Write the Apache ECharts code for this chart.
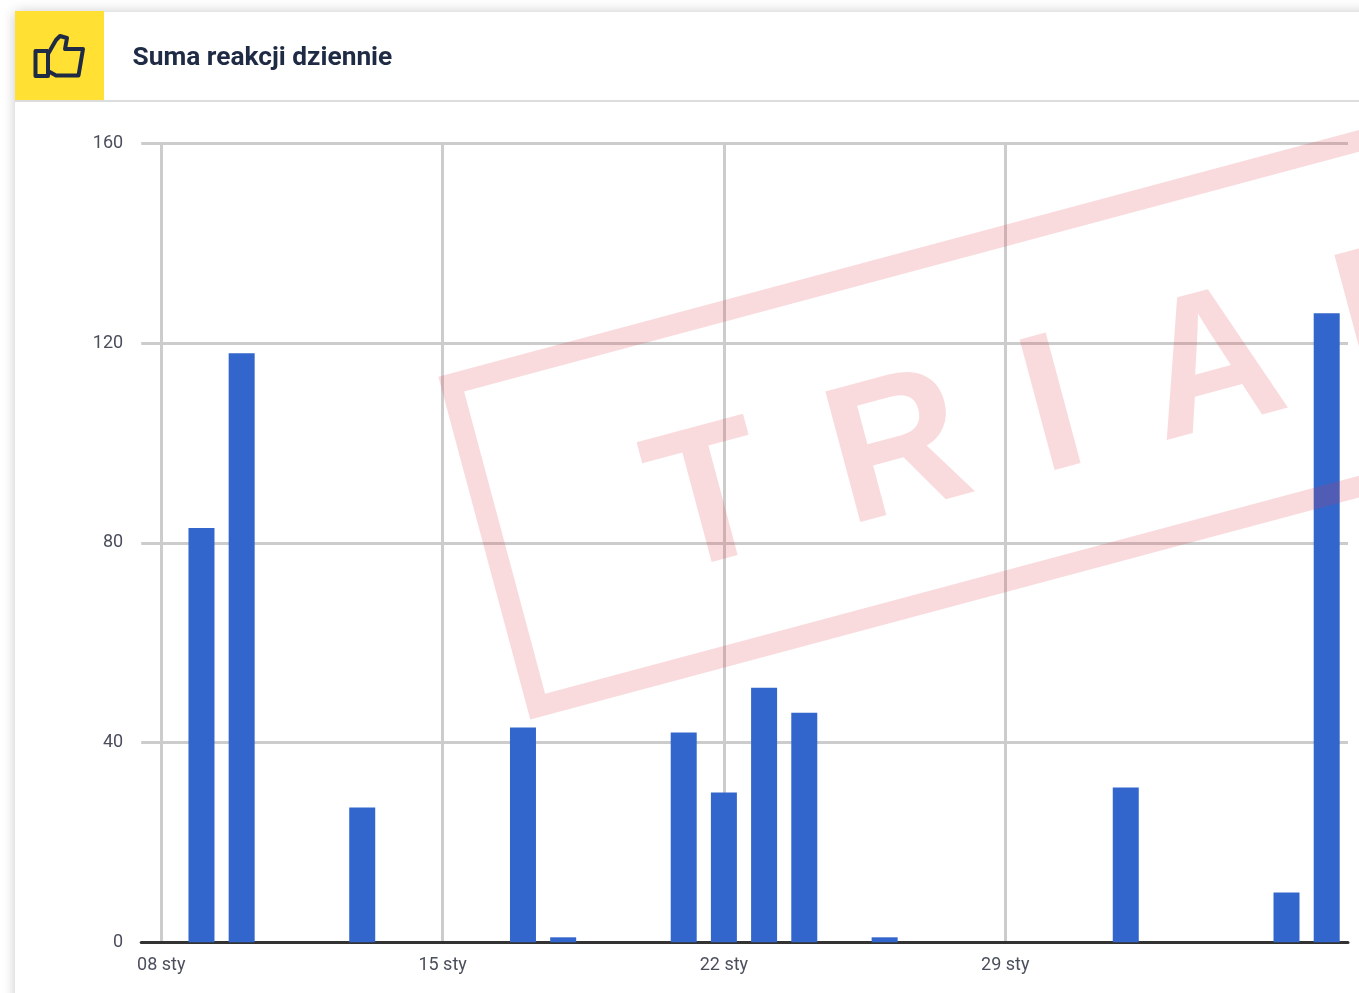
<!DOCTYPE html>
<html><head><meta charset="utf-8">
<style>html,body{margin:0;padding:0;background:#fff;overflow:hidden}#c{width:1359px;height:993px}</style>
<script src="https://cdn.jsdelivr.net/npm/echarts@6/dist/echarts.min.js"></script>
</head><body><div id="c"></div>
<script>
const titleText = 'Suma reakcji dziennie';
const days = ['08 sty','09 sty','10 sty','11 sty','12 sty','13 sty','14 sty','15 sty','16 sty','17 sty','18 sty','19 sty','20 sty','21 sty','22 sty','23 sty','24 sty','25 sty','26 sty','27 sty','28 sty','29 sty','30 sty','31 sty','01 lut','02 lut','03 lut','04 lut','05 lut','06 lut'];
const reactions = [0,83,118,0,0,27,0,0,0,43,1,0,0,42,30,51,46,0,1,0,0,0,0,0,31,0,0,0,10,126];
const labelledDays = ['08 sty','15 sty','22 sty','29 sty'];
const yTicks = [0,40,80,120,160];
const watermarkLetters = ['T','R','I','A','L'];
const letterX = [172,357,558,682,884];

const chart = echarts.init(document.getElementById('c'), null, {renderer:'canvas', width:1359, height:993});
const wmColor = 'rgba(223,55,71,0.18)';
const tickIdx = labelledDays.map(d=>days.indexOf(d));
chart.setOption({
  animation:false,
  backgroundColor:'#fff',
  title:{text:titleText,left:132.5,top:43,padding:0,textStyle:{fontFamily:'Roboto',fontWeight:700,fontSize:26.3,color:'#1f2a44',lineHeight:30}},
  grid:{left:141.2,right:11,top:143.5,bottom:50.7,containLabel:false},
  xAxis:{type:'value',min:-0.5,max:29.53,
    axisTick:{show:false,customValues:tickIdx},
    axisLine:{show:true,onZero:false,lineStyle:{color:'#333',width:3}},
    axisLabel:{customValues:tickIdx,margin:14,color:'#4b4f5c',fontFamily:'Roboto',fontSize:18,formatter:v=>days[v]||''},
    splitLine:{show:true,lineStyle:{color:'#ccc',width:3}}
  },
  yAxis:{type:'value',min:0,max:160,interval:40,
    axisLine:{show:false},axisTick:{show:false},
    axisLabel:{margin:18,padding:[4,0,0,0],color:'#4b4f5c',fontFamily:'Roboto',fontSize:18,formatter:v=>yTicks.includes(v)?String(v):''},
    splitLine:{show:true,lineStyle:{color:'#ccc',width:3}}
  },
  series:[{type:'bar',data:reactions.map((v,i)=>[i,v]),barWidth:26,itemStyle:{color:'#3366cc'},z:3}],
  graphic:[
    {type:'rect',z:-10,silent:true,shape:{x:15,y:12,width:1400,height:1100},style:{fill:'#fff',shadowBlur:12,shadowColor:'rgba(0,0,0,0.22)'}},
    {type:'rect',z:-9,silent:true,shape:{x:15,y:11,width:89,height:89},style:{fill:'#ffe033'}},
    {type:'rect',z:-9,silent:true,shape:{x:15,y:100,width:1350,height:2},style:{fill:'#dcdcdc'}},
    {type:'polyline',z:5,silent:true,shape:{points:[[48,51],[35.5,51],[35.5,76],[48,76],[48,51]]},style:{fill:'none',stroke:'#1f2a44',lineWidth:4,lineJoin:'round'}},
    {type:'polyline',z:5,silent:true,shape:{points:[[48,54],[56,40],[60,36],[67,38],[65,49],[83,49],[78.5,75.5],[56,75.5],[48,71]]},style:{fill:'none',stroke:'#1f2a44',lineWidth:4,lineJoin:'round'}},
    {type:'group',x:439,y:377,rotation:15*Math.PI/180,silent:true,z:100,children:[
      {type:'rect',shape:{x:10,y:10,width:1400,height:334},style:{fill:'none',stroke:wmColor,lineWidth:21},z:100},
      ...watermarkLetters.map((t,i)=>({type:'text',z:100,x:letterX[i],y:195,scaleY:1.05,style:{text:t,fill:wmColor,font:'bold 187px "Liberation Sans"',align:'left',verticalAlign:'middle'}}))
    ]}
  ]
});
</script></body></html>
